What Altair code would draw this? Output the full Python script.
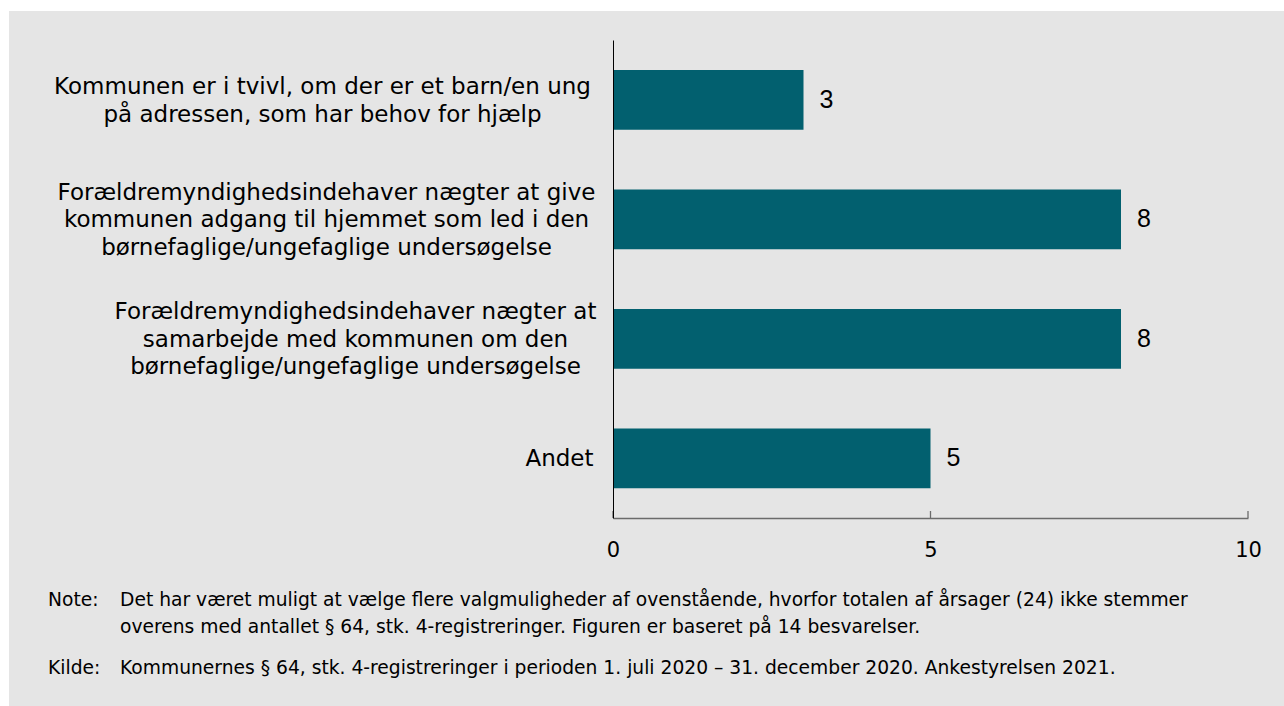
import altair as alt
import pandas as pd

# ---- data ----
categories = [
    "Kommunen er i tvivl, om der er et barn/en ung|på adressen, som har behov for hjælp",
    "Forældremyndighedsindehaver nægter at give|kommunen adgang til hjemmet som led i den|børnefaglige/ungefaglige undersøgelse",
    "Forældremyndighedsindehaver nægter at|samarbejde med kommunen om den|børnefaglige/ungefaglige undersøgelse",
    "Andet",
]
values = [3, 8, 8, 5]
tick_values = [0, 5, 10]

note_label = "Note:"
note_lines = [
    "Det har været muligt at vælge flere valgmuligheder af ovenstående, hvorfor totalen af årsager (24) ikke stemmer",
    "overens med antallet § 64, stk. 4-registreringer. Figuren er baseret på 14 besvarelser.",
]
source_label = "Kilde:"
source_line = "Kommunernes § 64, stk. 4-registreringer i perioden 1. juli 2020 – 31. december 2020. Ankestyrelsen 2021."

# ---- styles ----
BAR = "#02606f"
BG = "#e5e5e5"
W, H = 635, 478
LH = 27.5
label_centers = [291, 287, 258, 54]  # distance from axis to label centre (style)

df = pd.DataFrame({"cat": categories, "val": values})
ticks_df = pd.DataFrame({"t": tick_values})

pad_cond = [
    {"test": "datum.value == '" + c + "'", "value": p}
    for c, p in zip(categories, label_centers)
]
off_cond = [
    {"test": "datum.value == '" + c + "'", "value": -(c.count("|")) * LH / 2 + 1}
    for c in categories
]

y_enc = alt.Y(
    "cat:N",
    sort=categories,
    scale=alt.Scale(paddingInner=0.5, paddingOuter=0.25),
    axis=alt.Axis(
        title=None,
        ticks=False,
        grid=False,
        zindex=1,
        domainColor="#000000",
        domainWidth=1,
        labelAlign="center",
        labelBaseline="middle",
        labelPadding={"condition": pad_cond, "value": 54},
        labelOffset={"condition": off_cond, "value": 0},
        labelFont="DejaVu Sans",
        labelFontSize=23,
        labelLineHeight=LH,
        labelColor="#000000",
        labelLimit=1000,
        labelExpr="split(datum.label, '|')",
    ),
)
x_scale = alt.Scale(domain=[0, 10], nice=False)

background = alt.Chart(pd.DataFrame({"a": [0]})).mark_rect(color=BG).encode(
    x=alt.value(-604), x2=alt.value(W + 40), y=alt.value(-29), y2=alt.value(H + 190)
)

bars = alt.Chart(df).mark_bar(color=BAR).encode(
    x=alt.X(
        "val:Q",
        scale=x_scale,
        axis=alt.Axis(
            title=None,
            values=tick_values,
            format="d",
            ticks=False,
            grid=False,
            zindex=1,
            domainColor="#6b6b6b",
            domainWidth=1.3,
            labelFont="DejaVu Sans",
            labelFontSize=21,
            labelPadding=21,
            labelColor="#000000",
            labelFlush=False,
        ),
    ),
    y=y_enc,
)

labels = alt.Chart(df).mark_text(
    align="left", baseline="middle", dx=16, font="Liberation Sans", fontSize=25, color="#000000"
).encode(x=alt.X("val:Q", scale=x_scale), y=alt.Y("cat:N", sort=categories), text="val:Q")

tick_marks = alt.Chart(ticks_df).mark_rule(color="#6b6b6b", strokeWidth=1.3).encode(
    x=alt.X("t:Q", scale=x_scale), y=alt.value(H - 7), y2=alt.value(H)
)

note_font = dict(font="DejaVu Sans", fontSize=18.7, color="#000000", align="left", baseline="middle")
one = pd.DataFrame({"a": [0]})
notes = [
    alt.Chart(one).mark_text(text=note_label, **note_font).encode(x=alt.value(-565), y=alt.value(560)),
    alt.Chart(one).mark_text(text=note_lines[0], **note_font).encode(x=alt.value(-493), y=alt.value(560)),
    alt.Chart(one).mark_text(text=note_lines[1], **note_font).encode(x=alt.value(-493), y=alt.value(587)),
    alt.Chart(one).mark_text(text=source_label, **note_font).encode(x=alt.value(-565), y=alt.value(628)),
    alt.Chart(one).mark_text(text=source_line, **note_font).encode(x=alt.value(-493), y=alt.value(628)),
]

chart = alt.layer(background, bars, labels, tick_marks, *notes).properties(
    width=W, height=H,
    autosize=alt.AutoSizeParams(type="none"),
    padding={"left": 613, "top": 40, "right": 36, "bottom": 188},
    background="#ffffff",
).resolve_scale(x="shared", y="shared").configure_view(stroke=None)

chart.save("out.html", embed_options={"renderer": "svg", "actions": False})
